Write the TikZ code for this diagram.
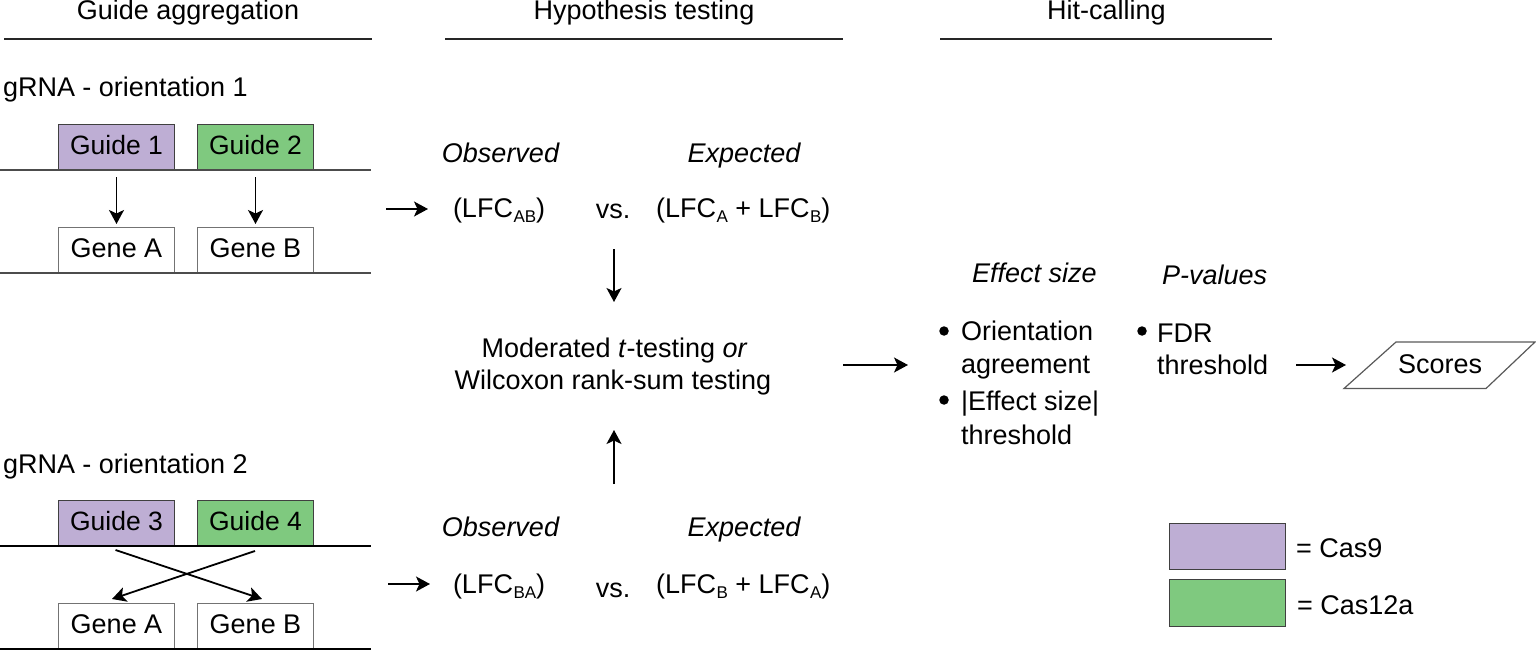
\documentclass[tikz,border=0pt]{standalone}
\usepackage{fontspec}
\setmainfont{Liberation Sans}
\usetikzlibrary{arrows.meta}
\definecolor{casnine}{HTML}{BEAED4}
\definecolor{castwelve}{HTML}{7FC97F}
\tikzset{
  x=1pt,y=-1pt,
  every node/.style={font=\fontsize{27}{32}\selectfont,text=black},
  txt/.style={anchor=base west,inner sep=0pt,outer sep=0pt},
  ctr/.style={anchor=base,inner sep=0pt,outer sep=0pt},
  it/.style={font=\fontsize{27}{32}\selectfont\itshape},
  guidebox/.style={draw=black!75,line width=1pt,minimum width=116pt,minimum height=46pt,inner sep=0pt,anchor=north west,text height=19pt,text depth=4.5pt,font=\fontsize{26.5}{32}\selectfont},
  genebox/.style={guidebox,draw=black!55,font=\fontsize{27}{32}\selectfont},
  rule/.style={line width=1.3pt,black!85},
  arr/.style={line width=1.8pt,-{Stealth[length=14pt,width=15pt,inset=3.5pt]}},
  dot/.style={circle,fill=black,inner sep=0pt,minimum size=9.5pt}
}
\newcommand{\sbs}[1]{\kern0.5pt\raisebox{-5pt}{\fontsize{17}{17}\selectfont #1}}
\begin{document}
\begin{tikzpicture}
\useasboundingbox (0,0) rectangle (1536,650);
% headers
\node[ctr] (h1) at (188,20) {Guide aggregation};
\node[ctr] (h2) at (644,20) {Hypothesis testing};
\node[ctr] (h3) at (1106.5,20) {Hit-calling};
\draw[rule] (4,39) -- (372,39);
\draw[rule] (445,39) -- (843,39);
\draw[rule] (940,39) -- (1272,39);
% orientation 1
\node[txt] (o1) at (3,97) {gRNA - orientation 1};
\node[guidebox,fill=casnine] (g1) at (58,124) {Guide 1};
\node[guidebox,fill=castwelve] (g2) at (197,124) {Guide 2};
\node[genebox] (a1) at (58,227) {Gene A};
\node[genebox] (b1) at (197,227) {Gene B};
\draw[rule,black!70] (0,170) -- (371,170);
\draw[rule,black!70] (0,273) -- (371,273);
\draw[arr,shorten <=6pt,shorten >=3pt] (g1.south) -- (a1.north);
\draw[arr,shorten <=6pt,shorten >=3pt] (g2.south) -- (b1.north);
% orientation 2
\node[txt] (o2) at (3,473) {gRNA - orientation 2};
\node[guidebox,fill=casnine] (g3) at (58,500) {Guide 3};
\node[guidebox,fill=castwelve] (g4) at (197,500) {Guide 4};
\node[genebox] (a2) at (58,602.5) {Gene A};
\node[genebox] (b2) at (197,602.5) {Gene B};
\draw[rule,black] (0,546) -- (371,546);
\draw[rule,black] (0,649) -- (371,649);
\coordinate (c3) at (115.5,550);
\coordinate (c4) at (255,551);
\coordinate (ca) at (112,599);
\coordinate (cb) at (262,599);
\draw[arr] (c3) -- (cb);
\draw[arr] (c4) -- (ca);
% hypothesis top
\node[ctr,it] (ob1) at (500.5,162) {Observed};
\node[ctr,it] (ex1) at (744,162) {Expected};
\node[txt] (l1) at (453,217) {(LFC\sbs{AB})};
\node[ctr] (v1) at (613,218) {vs.};
\node[txt] (r1) at (656,217) {(LFC\sbs{A} + LFC\sbs{B})};
% hypothesis bottom
\node[ctr,it] (ob2) at (500.5,536) {Observed};
\node[ctr,it] (ex2) at (744,536) {Expected};
\node[txt] (l2) at (453,593) {(LFC\sbs{BA})};
\node[ctr] (v2) at (613,597) {vs.};
\node[txt] (r2) at (656,593) {(LFC\sbs{B} + LFC\sbs{A})};
% middle
\node[ctr] (m1) at (614.5,357) {Moderated \textit{t}-testing \textit{or}};
\node[ctr] (m2) at (613,389) {Wilcoxon rank-sum testing};
% arrows
\coordinate (s1) at (386,209); \coordinate (e1) at (428,209);
\coordinate (s2) at (388,584); \coordinate (e2) at (430,584);
\coordinate (s3) at (614,249); \coordinate (e3) at (614,302);
\coordinate (s4) at (614,484); \coordinate (e4) at (614,430);
\coordinate (s5) at (843,365); \coordinate (e5) at (908,365);
\coordinate (s6) at (1296,365); \coordinate (e6) at (1346,365);
\draw[arr] (s1) -- (e1);
\draw[arr] (s2) -- (e2);
\draw[arr] (s3) -- (e3);
\draw[arr] (s4) -- (e4);
\draw[arr] (s5) -- (e5);
\draw[arr] (s6) -- (e6);
% hit calling
\node[txt,it] (es) at (972,282) {Effect size};
\node[txt,it] (pv) at (1162,284) {\textit{P}-values};
\node[dot] (d1) at (944,331) {};
\node[txt] (t1) at (961,340) {Orientation};
\node[txt] (t2) at (961,373) {agreement};
\node[dot] (d2) at (944,400) {};
\node[txt] (t3) at (961,410) {|Effect size|};
\node[txt] (t4) at (961,444) {threshold};
\node[dot] (d3) at (1142,331) {};
\node[txt] (t5) at (1157,342) {FDR};
\node[txt] (t6) at (1157,374) {threshold};
% scores
\draw[line width=1.2pt,black!65] (1344,388.5) -- (1396,342) -- (1535,342) -- (1486,388.5) -- cycle;
\node[ctr] (sc) at (1440,373) {Scores};
% legend
\node[guidebox,fill=casnine] (k1) at (1169,523) {};
\node[guidebox,fill=castwelve,minimum height=47pt] (k2) at (1169,579) {};
\node[txt] (kt1) at (1296,557) {= Cas9};
\node[txt] (kt2) at (1297,614) {= Cas12a};
\end{tikzpicture}
\end{document}
